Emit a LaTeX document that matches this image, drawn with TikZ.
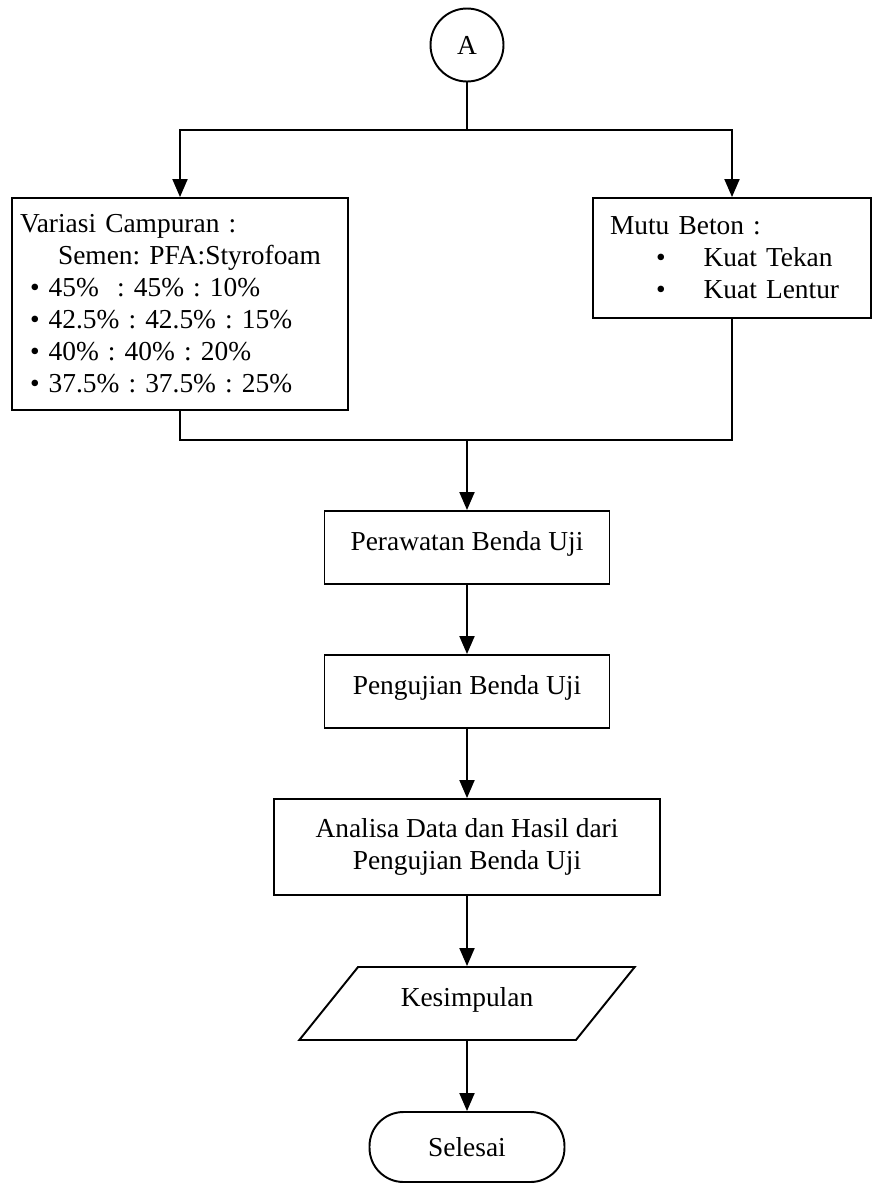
\documentclass[tikz,border=0pt]{standalone}
\usepackage{fontspec}
\setmainfont{Liberation Serif}
\usetikzlibrary{arrows.meta,shapes.geometric}
\frenchspacing
\begin{document}
\begin{tikzpicture}[x=0.02cm,y=-0.02cm,line width=1.1pt,
    >={Triangle[length=0.36cm,width=0.3cm]},
    font=\fontsize{15.6}{18.2}\selectfont,
    kotak/.style={draw,rectangle,minimum width=5.7cm,minimum height=1.46cm,text depth=0.28cm},
    daftar/.style={draw,rectangle,align=left}]
  \useasboundingbox (0,0) rectangle (872,1184);
  % penghubung dan cabang
  \node[draw,circle,minimum size=1.46cm,inner sep=0pt] (A) at (467,45) {A};
  \node[daftar,text width=6.4cm,inner xsep=0.16cm,minimum height=4.24cm] (var) at (180,304)
    {Variasi Campuran :\\
     \hspace*{0.76cm}Semen: PFA:Styrofoam\\
     \hspace*{0.2cm}\textbullet\hspace*{0.18cm}45\%\ \ : 45\% : 10\%\\
     \hspace*{0.2cm}\textbullet\hspace*{0.18cm}42.5\% : 42.5\% : 15\%\\
     \hspace*{0.2cm}\textbullet\hspace*{0.18cm}40\% : 40\% : 20\%\\
     \hspace*{0.2cm}\textbullet\hspace*{0.18cm}37.5\% : 37.5\% : 25\%};
  \node[daftar,text width=4.88cm,inner xsep=0.34cm,minimum height=2.4cm] (mutu) at (732,258)
    {Mutu Beton :\\
     \hspace*{0.92cm}\textbullet\hspace*{0.76cm}Kuat Tekan\\
     \hspace*{0.92cm}\textbullet\hspace*{0.76cm}Kuat Lentur};
  \coordinate (cabang) at (467,130);
  \coordinate (gabung) at (467,440);
  \draw (A) -- (cabang);
  \draw[->] (cabang) -| (var.north);
  \draw[->] (cabang) -| (mutu.north);
  \draw (var.south) |- (gabung);
  \draw (mutu.south) |- (gabung);
  % alur utama
  \node[kotak] (rawat) at (467,547.5) {Perawatan Benda Uji};
  \node[kotak] (uji) at (467,691.5) {Pengujian Benda Uji};
  \node[draw,rectangle,align=center,minimum width=7.72cm,minimum height=1.92cm] (analisa) at (467,847)
    {Analisa Data dan Hasil dari\\ Pengujian Benda Uji};
  \node[draw,trapezium,trapezium left angle=49,trapezium right angle=131,trapezium stretches=true,
    minimum width=6.72cm,minimum height=1.46cm,text depth=0.28cm] (simpul) at (467,1003.5) {Kesimpulan};
  \node[draw,rounded corners=0.68cm,minimum width=3.9cm,minimum height=1.4cm] (selesai) at (467,1147) {Selesai};
  \draw[->] (gabung) -- (rawat);
  \draw[->] (rawat) -- (uji);
  \draw[->] (uji) -- (analisa);
  \draw[->] (analisa) -- (simpul);
  \draw[->] (simpul) -- (selesai);
\end{tikzpicture}
\end{document}
